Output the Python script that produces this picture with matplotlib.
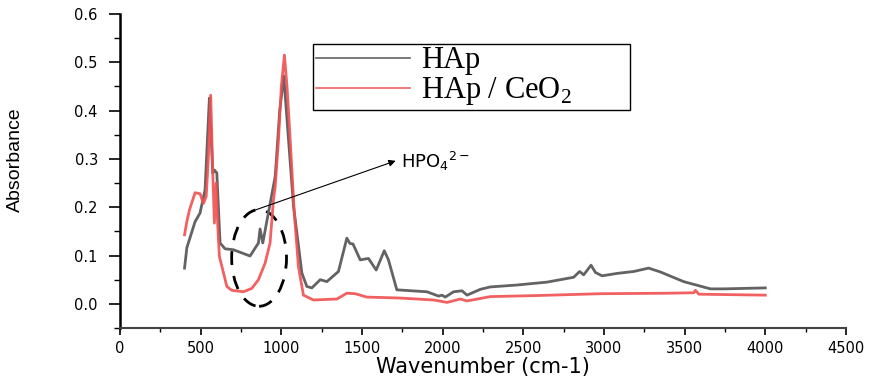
import numpy as np
import matplotlib.pyplot as plt
from matplotlib.patches import Ellipse
from matplotlib.ticker import MultipleLocator, FormatStrFormatter

# HAp spectrum
hap_x = [400, 414, 465, 496, 527, 554, 575, 585, 600, 620, 651, 703, 806, 858,
         868, 885, 920, 962, 990, 1015, 1040, 1075, 1127, 1158, 1189, 1241, 1282,
         1354, 1406, 1425, 1444, 1489, 1540, 1588, 1638, 1664, 1716, 1903, 1975,
         1996, 2016, 2068, 2120, 2151, 2233, 2295, 2461, 2647, 2812, 2849, 2874,
         2920, 2947, 2988, 3081, 3184, 3277, 3350, 3494, 3660, 3743, 4000]
hap_y = [0.074, 0.116, 0.170, 0.188, 0.236, 0.426, 0.271, 0.277, 0.271, 0.126,
         0.114, 0.112, 0.099, 0.126, 0.155, 0.126, 0.189, 0.264, 0.40, 0.472,
         0.36, 0.204, 0.064, 0.036, 0.033, 0.050, 0.046, 0.067, 0.136, 0.125,
         0.124, 0.091, 0.094, 0.070, 0.110, 0.091, 0.029, 0.025, 0.016, 0.018,
         0.014, 0.025, 0.027, 0.018, 0.030, 0.035, 0.039, 0.045, 0.055, 0.067,
         0.060, 0.080, 0.065, 0.058, 0.063, 0.067, 0.074, 0.066, 0.046, 0.031,
         0.031, 0.033]

# HAp / CeO2 spectrum
ce_x = [400, 414, 430, 465, 496, 517, 534, 548, 562, 575, 585, 596, 606, 616,
        637, 662, 693, 765, 817, 858, 899, 930, 951, 962, 982, 1000, 1019, 1035,
        1055, 1079, 1106, 1137, 1199, 1344, 1406, 1458, 1530, 1737, 1944, 2027,
        2109, 2151, 2295, 2564, 2978, 3391, 3557, 3567, 3588, 4000]
ce_y = [0.143, 0.170, 0.194, 0.230, 0.228, 0.208, 0.222, 0.305, 0.432, 0.270,
        0.167, 0.250, 0.160, 0.098, 0.070, 0.036, 0.028, 0.025, 0.032, 0.050,
        0.084, 0.126, 0.215, 0.243, 0.339, 0.45, 0.515, 0.45, 0.339, 0.194,
        0.077, 0.018, 0.008, 0.010, 0.022, 0.021, 0.014, 0.012, 0.008, 0.003,
        0.010, 0.006, 0.015, 0.017, 0.021, 0.022, 0.023, 0.028, 0.020, 0.018]

plt.rcParams['font.family'] = ['DejaVu Sans']
plt.rcParams['mathtext.fontset'] = 'custom'
plt.rcParams['mathtext.rm'] = 'Liberation Serif'
plt.rcParams['mathtext.sf'] = 'DejaVu Sans'

fig = plt.figure(figsize=(8.73, 3.83), dpi=100)
ax = fig.add_axes([0.1375, 0.1436, 0.8315, 0.8198])

ax.plot(hap_x, hap_y, color='#636363', lw=2, label='HAp')
ax.plot(ce_x, ce_y, color='#f05050', lw=2, alpha=0.9, label='HAp / CeO$_\\mathrm{2}$')

ax.set_xlim(0, 4500)
ax.set_ylim(-0.05, 0.6)
ax.xaxis.set_major_locator(MultipleLocator(500))
ax.xaxis.set_minor_locator(MultipleLocator(250))
ax.yaxis.set_major_locator(MultipleLocator(0.1))
ax.yaxis.set_minor_locator(MultipleLocator(0.05))
ax.yaxis.set_major_formatter(FormatStrFormatter('%.1f'))
ax.set_yticks(np.arange(0, 0.61, 0.1))

for s in ['top', 'right']:
    ax.spines[s].set_visible(False)
ax.spines['left'].set_linewidth(1.8)
ax.spines['bottom'].set_linewidth(1.5)
ax.spines['bottom'].set_color('#444444')
ax.tick_params(axis='y', which='major', direction='out', length=8, width=1.2,
               labelsize=10.5, pad=8)
ax.tick_params(axis='y', which='minor', direction='out', length=4.5, width=1.0)
ax.tick_params(axis='x', which='major', direction='out', length=5, width=1.2,
               labelsize=10.5, pad=4)
ax.tick_params(axis='x', which='minor', direction='out', length=3, width=1.0)

ax.set_xlabel('Wavenumber (cm-1)', fontsize=15, labelpad=1)
ax.set_ylabel('Absorbance', fontsize=14, family=['Liberation Sans', 'DejaVu Sans'])
ax.yaxis.set_label_coords(-0.133, 0.535)

leg = ax.legend(loc='upper left', bbox_to_anchor=(0.266, 0.70, 0.437, 0.2045),
                mode='expand', borderaxespad=0, fancybox=False,
                edgecolor='black', framealpha=1, borderpad=0.08, handlelength=3.1,
                labelspacing=0.0, handletextpad=0.35,
                prop={'family': 'Liberation Serif', 'size': 22})
leg.get_frame().set_linewidth(1.0)
for h in leg.get_lines():
    h.set_linewidth(1.2)

ax.add_patch(Ellipse((862, 0.095), 340, 0.20, fill=False, edgecolor='black',
                     lw=2, linestyle=(0, (5, 4))))
ax.annotate('', xy=(1725, 0.298), xytext=(819, 0.192),
            arrowprops=dict(arrowstyle='-|>', color='black', lw=0.8, mutation_scale=10))
ax.text(1740, 0.294, 'HPO$_\\mathsf{4}$$^\\mathsf{2-}$', fontsize=13, va='center', ha='left')

fig.savefig('out.png', dpi=100)
